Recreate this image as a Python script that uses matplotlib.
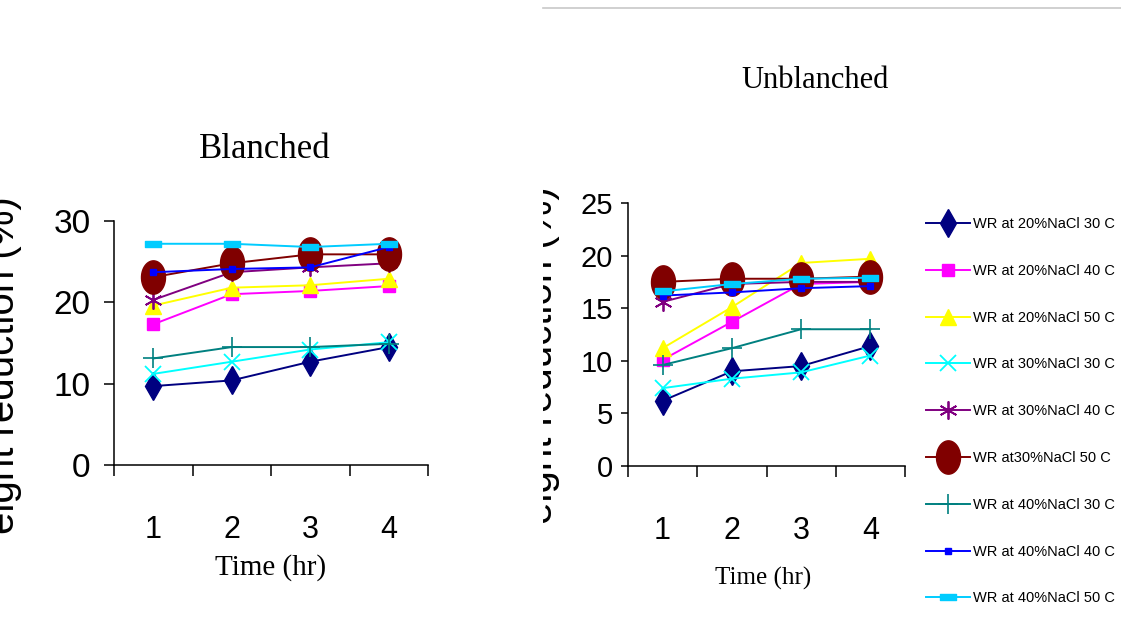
import numpy as np
import matplotlib
matplotlib.use("Agg")
import matplotlib.pyplot as plt
from matplotlib.path import Path
from matplotlib.lines import Line2D
from matplotlib.transforms import Bbox, TransformedBbox

W, H = 1121, 617

hours = [1, 2, 3, 4]
labels = ['WR at 20%NaCl 30 C', 'WR at 20%NaCl 40 C', 'WR at 20%NaCl 50 C',
          'WR at 30%NaCl 30 C', 'WR at 30%NaCl 40 C', 'WR at30%NaCl 50 C',
          'WR at 40%NaCl 30 C', 'WR at 40%NaCl 40 C', 'WR at 40%NaCl 50 C']

# weight reduction (%)
blanched = [
    [9.7, 10.4, 12.7, 14.5],
    [17.3, 21.0, 21.4, 22.0],
    [19.6, 21.8, 22.1, 22.9],
    [11.2, 12.7, 14.2, 15.1],
    [20.3, 23.7, 24.3, 24.8],
    [23.1, 24.8, 25.9, 25.9],
    [13.1, 14.5, 14.5, 14.9],
    [23.7, 24.1, 24.3, 26.8],
    [27.2, 27.2, 26.8, 27.2],
]
unblanched = [
    [6.2, 9.0, 9.5, 11.4],
    [10.1, 13.7, 17.3, 17.5],
    [11.2, 15.1, 19.3, 19.7],
    [7.4, 8.3, 8.9, 10.5],
    [15.6, 17.3, 17.5, 17.5],
    [17.5, 17.8, 17.8, 18.0],
    [9.6, 11.2, 13.0, 13.0],
    [16.2, 16.5, 16.9, 17.1],
    [16.6, 17.3, 17.8, 17.9],
]

# excel-ish markers
t = np.linspace(0, 2 * np.pi, 60)
ellipse = Path(np.column_stack([0.72 * np.cos(t), np.sin(t)]), closed=True)
flat_rect = Path([(-1, -0.33), (1, -0.33), (1, 0.33), (-1, 0.33), (-1, -0.33)], closed=True)

styles = [
    dict(color='#000080', marker='d', ms=14),
    dict(color='#FF00FF', marker='s', ms=9),
    dict(color='#FFFF00', marker='^', ms=12),
    dict(color='#00FFFF', marker='x', ms=11, mew=1.3),
    dict(color='#800080', marker=(6, 2, 0), ms=13, mew=1.3),
    dict(color='#800000', marker=ellipse, ms=24),
    dict(color='#008080', marker='+', ms=15, mew=1.2),
    dict(color='#0000FF', marker='s', ms=5),
    dict(color='#00CCFF', marker=flat_rect, ms=12),
]

sans = ['Liberation Sans', 'DejaVu Sans']
serif = ['Liberation Serif', 'DejaVu Serif']


def px(x, y):
    return x / W, 1 - y / H


fig = plt.figure(figsize=(W / 100, H / 100), dpi=100)


def make_panel(rect, data, ymax, ystep, ysize, ypad, ytick_len):
    ax = fig.add_axes(rect)
    for vals, st in zip(data, styles):
        ax.plot(hours, vals, lw=1.4, mec=st['color'], mfc=st['color'], **st)
    ax.set_xlim(0.5, 4.5)
    ax.set_ylim(0, ymax)
    ax.set_yticks(np.arange(0, ymax + 0.1, ystep))
    ax.set_xticks([1, 2, 3, 4])
    ax.set_xticks([0.5, 1.5, 2.5, 3.5, 4.5], minor=True)
    ax.tick_params(axis='x', which='major', length=0, pad=36)
    ax.tick_params(axis='x', which='minor', length=8, width=1.1, direction='out')
    ax.tick_params(axis='y', length=ytick_len, width=1.1, direction='out', pad=ypad)
    for lab in ax.get_xticklabels():
        lab.set_fontfamily(sans)
        lab.set_fontsize(22)
    for lab in ax.get_yticklabels():
        lab.set_fontfamily(sans)
        lab.set_fontsize(ysize)
    for s in ['top', 'right']:
        ax.spines[s].set_visible(False)
    for s in ['left', 'bottom']:
        ax.spines[s].set_linewidth(1.1)
    ax.patch.set_visible(False)
    return ax


# left: axis 114..428 px, y 221..465 px
ax1 = make_panel([114 / W, (H - 465) / H, 314 / W, 244 / H], blanched, 30, 10, 24, 10, 7)
# right: axis 628..905 px, y 203..466 px
ax2 = make_panel([628 / W, (H - 466) / H, 277 / W, 263 / H], unblanched, 25, 5, 21, 6, 5)

fig.text(*px(265, 150), 'Blanched', family=serif, fontsize=25, ha='center', va='center')
fig.text(*px(815, 80), 'Unblanched', family=serif, fontsize=22, ha='center', va='center')
fig.text(*px(271, 568), 'Time (hr)', family=serif, fontsize=21, ha='center', va='center')
fig.text(*px(763, 578), 'Time (hr)', family=serif, fontsize=18, ha='center', va='center')

# y labels, cut off by the screenshot edges
fig.text(*px(22, 365), 'eight reduction (%)', family=sans, fontsize=29,
         rotation=90, ha='right', va='center')
yl = fig.text(*px(560, 355), 'eight reduction (%)', family=sans, fontsize=29,
              rotation=90, ha='right', va='center')
yl.set_clip_on(True)
yl.set_clip_box(TransformedBbox(Bbox([[543 / W, 0], [1, 1]]), fig.transFigure))

# thin grey frame line at the top of the right screenshot
fig.add_artist(Line2D([543 / W, 1], [1 - 8 / H, 1 - 8 / H], color='#c8c8c8', lw=1.2))

handles = [Line2D([], [], lw=1.4, mec=st['color'], mfc=st['color'], **st) for st in styles]
leg = fig.legend(handles, labels, loc='upper left', bbox_to_anchor=px(926, 217),
                 frameon=False, handlelength=3.0, handletextpad=0.2,
                 labelspacing=2.25, borderaxespad=0, borderpad=0,
                 prop=dict(family=sans, size=10.5))

fig.savefig('out.png', dpi=100)
